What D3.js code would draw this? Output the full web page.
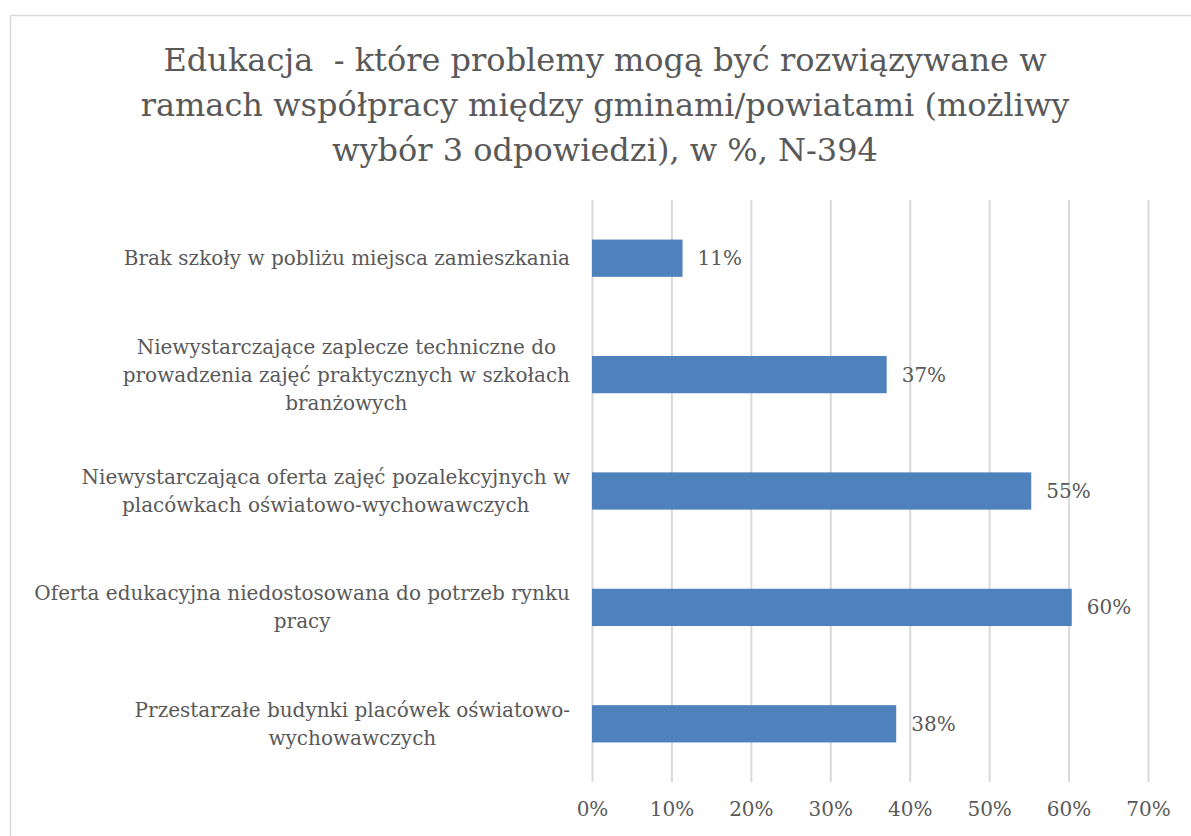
<!DOCTYPE html>
<html>
<head>
<meta charset="utf-8">
<script src="https://cdn.jsdelivr.net/npm/d3@7"></script>
<style>
  body { margin: 0; background: #fff; }
  text { font-family: "DejaVu Serif", serif; fill: #595959; }
</style>
</head>
<body>
<div id="chart"></div>
<script>
// categories, each broken into the lines shown in the picture
var categories = [
  ["Brak szkoły w pobliżu miejsca zamieszkania"],
  ["Niewystarczające zaplecze techniczne do", "prowadzenia zajęć praktycznych w szkołach", "branżowych"],
  ["Niewystarczająca oferta zajęć pozalekcyjnych w", "placówkach oświatowo-wychowawczych"],
  ["Oferta edukacyjna niedostosowana do potrzeb rynku", "pracy"],
  ["Przestarzałe budynki placówek oświatowo-", "wychowawczych"]
];
var values = [0.114, 0.371, 0.553, 0.604, 0.383];
var ticks = [0, 0.1, 0.2, 0.3, 0.4, 0.5, 0.6, 0.7];
var titleLines = [
  "Edukacja  - które problemy mogą być rozwiązywane w",
  "ramach współpracy między gminami/powiatami (możliwy",
  "wybór 3 odpowiedzi), w %, N-394"
];

var W = 1191, H = 836;
var svg = d3.select("#chart").append("svg")
    .attr("width", W)
    .attr("height", H);

// outer frame
svg.append("rect")
    .attr("x", 10.5).attr("y", 15.5)
    .attr("width", 1190).attr("height", 840)
    .attr("fill", "#fff")
    .attr("stroke", "#d9d9d9")
    .attr("stroke-width", 1.5);

// title
svg.append("text")
    .attr("text-anchor", "middle")
    .style("font-size", "32px")
    .style("white-space", "pre")
    .selectAll("tspan")
    .data(titleLines)
    .enter().append("tspan")
      .attr("x", 605)
      .attr("y", function(d, i) { return 71 + i * 45; })
      .text(function(d) { return d; });

var plotL = 592, plotR = 1148, plotT = 200, plotB = 782;

var x = d3.scaleLinear()
    .domain([0, 0.7])
    .range([plotL, plotR]);

var y = d3.scaleBand()
    .domain(d3.range(categories.length))
    .range([plotT, plotB])
    .paddingInner(0.68)
    .paddingOuter(0.34);

// gridlines + tick labels
var xAxis = svg.append("g")
    .attr("transform", "translate(0," + plotB + ")")
    .call(d3.axisBottom(x)
      .tickValues(ticks)
      .tickFormat(d3.format(".0%"))
      .tickSizeInner(-(plotB - plotT))
      .tickSizeOuter(0)
      .tickPadding(20));
xAxis.select(".domain").remove();
xAxis.selectAll(".tick line")
    .attr("stroke", "#d9d9d9")
    .attr("stroke-width", 2);
xAxis.selectAll(".tick text")
    .attr("fill", "#595959")
    .style("font-family", "DejaVu Serif, serif")
    .style("font-size", "20px");

// bars
svg.selectAll(".bar")
    .data(values)
    .enter().append("rect")
      .attr("class", "bar")
      .attr("x", x(0))
      .attr("y", function(d, i) { return y(i); })
      .attr("width", function(d) { return x(d) - x(0); })
      .attr("height", y.bandwidth())
      .attr("fill", "#4f81bd");

// value labels
svg.selectAll(".val")
    .data(values)
    .enter().append("text")
      .attr("class", "val")
      .attr("x", function(d) { return x(d) + 15; })
      .attr("y", function(d, i) { return y(i) + y.bandwidth() / 2; })
      .attr("dy", "0.35em")
      .style("font-size", "20px")
      .text(function(d) { return Math.round(d * 100) + "%"; });

// category labels: block right aligned, lines centred inside it
var lineH = 28;
var labels = svg.selectAll(".cat")
    .data(categories)
    .enter().append("text")
      .attr("class", "cat")
      .attr("text-anchor", "middle")
      .style("font-size", "20px");

labels.each(function(lines, i) {
  var t = d3.select(this);
  var cy = y(i) + y.bandwidth() / 2;
  var y0 = cy - (lines.length - 1) * lineH / 2;
  lines.forEach(function(s, j) {
    t.append("tspan")
      .attr("y", y0 + j * lineH)
      .attr("dy", "0.35em")
      .text(s);
  });
  var maxW = 0;
  t.selectAll("tspan").each(function() {
    maxW = Math.max(maxW, this.getComputedTextLength());
  });
  t.selectAll("tspan").attr("x", 570 - maxW / 2);
});
</script>
</body>
</html>
